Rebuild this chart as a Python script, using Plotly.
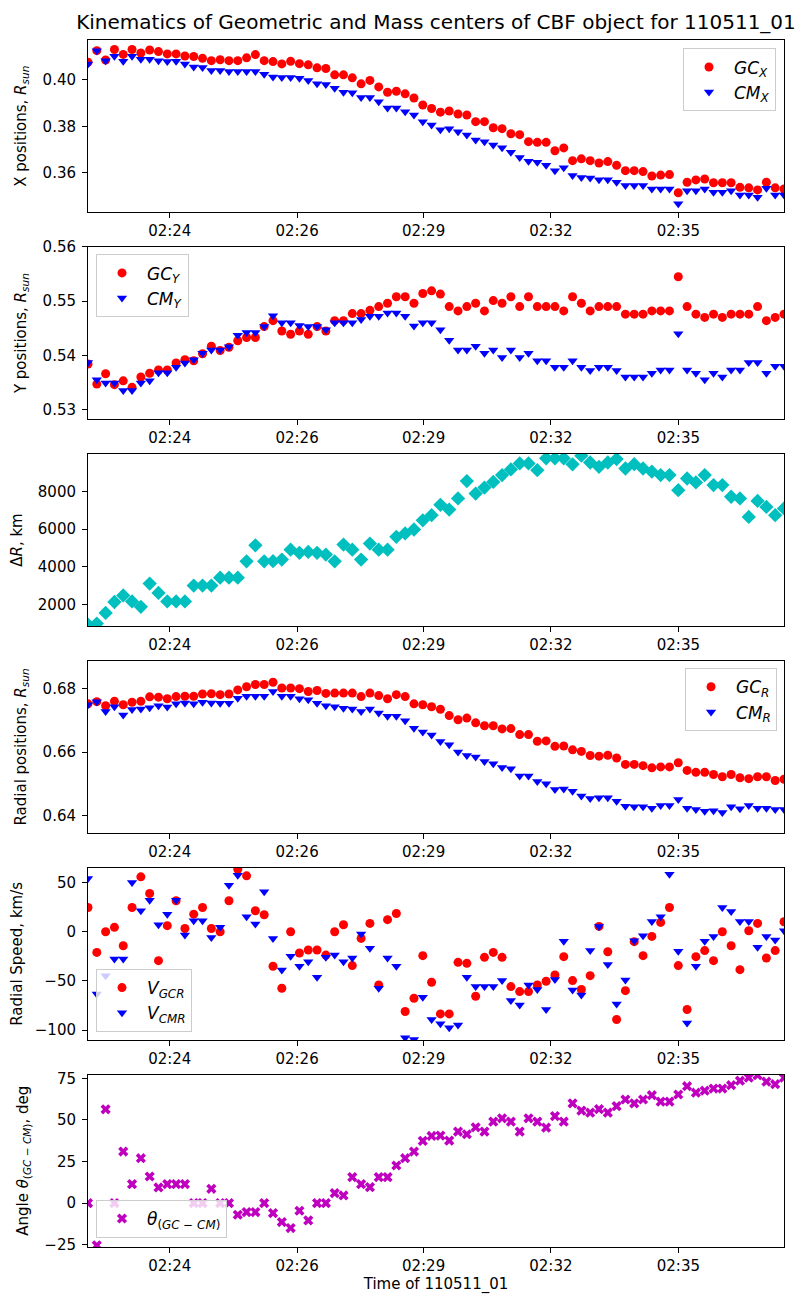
import plotly.graph_objects as go
from plotly.subplots import make_subplots

# frame index of each measurement (12 s cadence)
frames = list(range(80))

time_ticks = [9.28, 23.73, 38.09, 52.54, 67.01]
time_labels = ["02:24", "02:26", "02:29", "02:32", "02:35"]

gc_x = [0.4076, 0.4126, 0.4086, 0.4131, 0.4110, 0.4131, 0.4116, 0.4129, 0.4122, 0.4112,
        0.4112, 0.4103, 0.4101, 0.4093, 0.4083, 0.4087, 0.4083, 0.4083, 0.4095, 0.4109,
        0.4083, 0.4079, 0.4069, 0.4080, 0.4070, 0.4065, 0.4052, 0.4049, 0.4022, 0.4022,
        0.4009, 0.3983, 0.3998, 0.3970, 0.3947, 0.3951, 0.3940, 0.3922, 0.3892, 0.3877,
        0.3861, 0.3866, 0.3853, 0.3849, 0.3820, 0.3820, 0.3794, 0.3790, 0.3768, 0.3764,
        0.3734, 0.3731, 0.3731, 0.3695, 0.3707, 0.3652, 0.3660, 0.3652, 0.3642, 0.3648,
        0.3632, 0.3609, 0.3609, 0.3605, 0.3586, 0.3590, 0.3592, 0.3514, 0.3559, 0.3569,
        0.3573, 0.3557, 0.3557, 0.3557, 0.3537, 0.3535, 0.3526, 0.3559, 0.3535, 0.3530]
cm_x = [0.4069, 0.4126, 0.4083, 0.4102, 0.4080, 0.4102, 0.4089, 0.4089, 0.4083, 0.4079,
        0.4080, 0.4069, 0.4056, 0.4053, 0.4041, 0.4041, 0.4036, 0.4036, 0.4036, 0.4036,
        0.4024, 0.4013, 0.4010, 0.4010, 0.4007, 0.3997, 0.3983, 0.3980, 0.3964, 0.3947,
        0.3945, 0.3924, 0.3924, 0.3906, 0.3879, 0.3879, 0.3863, 0.3849, 0.3820, 0.3806,
        0.3785, 0.3790, 0.3777, 0.3763, 0.3741, 0.3734, 0.3720, 0.3708, 0.3688, 0.3666,
        0.3649, 0.3645, 0.3632, 0.3609, 0.3621, 0.3588, 0.3579, 0.3577, 0.3570, 0.3570,
        0.3559, 0.3545, 0.3545, 0.3545, 0.3530, 0.3530, 0.3530, 0.3466, 0.3522, 0.3522,
        0.3530, 0.3516, 0.3516, 0.3522, 0.3504, 0.3504, 0.3494, 0.3533, 0.3504, 0.3504]

gc_y = [0.5384, 0.5347, 0.5366, 0.5346, 0.5353, 0.5341, 0.5360, 0.5367, 0.5373, 0.5373,
        0.5386, 0.5392, 0.5390, 0.5403, 0.5417, 0.5409, 0.5415, 0.5427, 0.5433, 0.5433,
        0.5453, 0.5464, 0.5445, 0.5439, 0.5445, 0.5439, 0.5453, 0.5445, 0.5464, 0.5464,
        0.5477, 0.5477, 0.5483, 0.5490, 0.5496, 0.5508, 0.5508, 0.5496, 0.5514, 0.5519,
        0.5513, 0.5490, 0.5482, 0.5490, 0.5496, 0.5482, 0.5501, 0.5496, 0.5508, 0.5490,
        0.5508, 0.5490, 0.5490, 0.5490, 0.5482, 0.5508, 0.5496, 0.5482, 0.5490, 0.5490,
        0.5490, 0.5476, 0.5476, 0.5476, 0.5482, 0.5482, 0.5482, 0.5545, 0.5490, 0.5476,
        0.5470, 0.5476, 0.5470, 0.5476, 0.5476, 0.5476, 0.5490, 0.5464, 0.5470, 0.5476]
cm_y = [0.5387, 0.5355, 0.5349, 0.5349, 0.5335, 0.5335, 0.5349, 0.5353, 0.5368, 0.5368,
        0.5378, 0.5386, 0.5392, 0.5404, 0.5410, 0.5410, 0.5416, 0.5437, 0.5442, 0.5442,
        0.5453, 0.5473, 0.5460, 0.5460, 0.5455, 0.5453, 0.5453, 0.5447, 0.5460, 0.5460,
        0.5460, 0.5466, 0.5472, 0.5472, 0.5478, 0.5478, 0.5472, 0.5454, 0.5460, 0.5460,
        0.5447, 0.5428, 0.5410, 0.5410, 0.5417, 0.5404, 0.5410, 0.5396, 0.5410, 0.5396,
        0.5404, 0.5390, 0.5390, 0.5378, 0.5378, 0.5390, 0.5378, 0.5372, 0.5378, 0.5378,
        0.5372, 0.5360, 0.5360, 0.5360, 0.5367, 0.5373, 0.5373, 0.5440, 0.5373, 0.5367,
        0.5355, 0.5367, 0.5360, 0.5373, 0.5373, 0.5387, 0.5387, 0.5367, 0.5380, 0.5380]

delta_r = [925, 980, 1550, 2130, 2480, 2160, 1870, 3110, 2610, 2160,
           2160, 2160, 3000, 3000, 3000, 3420, 3420, 3420, 4290, 5140,
           4290, 4300, 4380, 4910, 4740, 4790, 4740, 4650, 4290, 5180,
           4910, 4380, 5230, 4910, 4910, 5590, 5770, 5980, 6470, 6740,
           7290, 7040, 7630, 8550, 7890, 8210, 8510, 8870, 9170, 9490,
           9490, 9130, 9760, 9760, 9760, 9440, 9900, 9540, 9310, 9540,
           9720, 9220, 9450, 9220, 9050, 8870, 8870, 8070, 8690, 8480,
           8870, 8340, 8340, 7720, 7630, 6650, 7500, 7180, 6740, 7100]

gc_r = [0.6752, 0.6759, 0.6746, 0.6760, 0.6749, 0.6757, 0.6760, 0.6774, 0.6773, 0.6768,
        0.6775, 0.6776, 0.6776, 0.6783, 0.6784, 0.6781, 0.6783, 0.6796, 0.6806, 0.6813,
        0.6813, 0.6820, 0.6802, 0.6802, 0.6800, 0.6791, 0.6794, 0.6785, 0.6786, 0.6786,
        0.6786, 0.6775, 0.6786, 0.6778, 0.6768, 0.6781, 0.6775, 0.6752, 0.6749, 0.6743,
        0.6735, 0.6715, 0.6702, 0.6707, 0.6692, 0.6683, 0.6683, 0.6673, 0.6674, 0.6655,
        0.6655, 0.6634, 0.6635, 0.6618, 0.6619, 0.6607, 0.6602, 0.6589, 0.6587, 0.6590,
        0.6581, 0.6561, 0.6561, 0.6557, 0.6550, 0.6553, 0.6553, 0.6566, 0.6542, 0.6536,
        0.6536, 0.6529, 0.6522, 0.6529, 0.6519, 0.6516, 0.6522, 0.6522, 0.6510, 0.6514]
cm_r = [0.6749, 0.6759, 0.6728, 0.6743, 0.6717, 0.6734, 0.6736, 0.6740, 0.6746, 0.6742,
        0.6752, 0.6755, 0.6752, 0.6757, 0.6755, 0.6754, 0.6754, 0.6770, 0.6776, 0.6776,
        0.6776, 0.6791, 0.6776, 0.6776, 0.6768, 0.6765, 0.6754, 0.6746, 0.6743, 0.6738,
        0.6736, 0.6728, 0.6736, 0.6723, 0.6713, 0.6713, 0.6699, 0.6675, 0.6663, 0.6654,
        0.6633, 0.6623, 0.6600, 0.6589, 0.6584, 0.6570, 0.6563, 0.6551, 0.6547, 0.6524,
        0.6524, 0.6507, 0.6500, 0.6482, 0.6483, 0.6476, 0.6461, 0.6453, 0.6456, 0.6456,
        0.6445, 0.6429, 0.6427, 0.6427, 0.6423, 0.6431, 0.6431, 0.6450, 0.6423, 0.6419,
        0.6413, 0.6415, 0.6409, 0.6427, 0.6421, 0.6431, 0.6423, 0.6423, 0.6419, 0.6419]

v_gcr = [24.6, -21, 0, 4.4, -14.2, 24.6, 55.7, 38.8, -29.4, 6.1,
         31.4, 3.3, 17.8, 24.6, 3.3, 0, 31.4, 63.4, 56.7, 21.3,
         17.2, -35.1, -57.4, 0, -21.6, -18.6, -18.6, -23.7, 0, 7.1,
         -34.4, -6.8, 8.4, -54.1, 12.2, 18.5, -81, -67.5, -24.3, -51.3,
         -83.4, -83.4, -31.1, -32.1, -65.5, -26, -21, -26, -55.7, -60.8,
         -60.8, -54.1, -50.3, -43.9, -25.3, -49.6, -58.7, -44.6, 5.4, -20.3,
         -89.1, -59.8, -10.1, -24.3, -4.8, 9.4, 24.6, -34.4, -79, -25.3,
         -19.2, -29.4, 0, -14.2, -38.5, 1, 8.4, -26.7, -19.2, 10.1]
v_cmr = [54, -63.2, -44.6, -27.7, -27.7, 49.9, 21.3, 32, 7.1, 17.8,
         32, -3.4, 11.1, 11.1, -5.8, 4.4, 47.2, 57.3, 15.2, 7.7,
         40.5, -6.8, -38.9, -25, -35.1, -30.4, -46.3, -26, -23.7, -30.4,
         -26.7, -2.4, -16.9, -57.4, -26.7, -35.1, -107.7, -109.4, -66.5, -89.1,
         -93.5, -97.6, -94.6, -46.3, -55.7, -55.7, -55.7, -49.6, -69.9, -74.3,
         -54.1, -58.7, -79, -48.6, -9.8, -59.1, -64.2, -19.2, 5.4, -33.4,
         -73.3, -49, -9.1, -4.1, 10.4, 15.2, 58.3, -19.9, -92.6, -35.1,
         -9.8, -4.8, 24.6, 20.6, 10.4, 10.4, -15.9, -4.8, -8.5, 1]

theta = [0, -25.4, 56.4, 0, 31, 11.4, 27, 16, 9.4, 11.4,
         11.4, 11.4, 0, 0, 8.6, 0, 0, -7, -5.4, -5.4,
         0, -6, -11.4, -15, -4.6, -10.4, 0, 0, 6, 4.6,
         15.6, 11.4, 9.6, 15.6, 15.6, 22.6, 27, 31, 37.4, 40.4,
         40.6, 37.6, 43, 41.4, 45.6, 43, 49, 51, 49, 43,
         51, 49, 45.4, 52.3, 49, 60, 55.6, 54.4, 56.5, 54.4,
         58.3, 62.3, 60, 62.3, 64.9, 61, 61, 65.3, 70.3, 66.4,
         67.6, 68.9, 68.9, 70.9, 73.6, 75.4, 76.9, 73, 71.5, 75.4]

FONT = "DejaVu Sans"
RED = "#ff0000"
BLUE = "#0000ff"

fig = make_subplots(rows=6, cols=1, vertical_spacing=1 / 35)


def dots(y, name, color, symbol, row, legend, size=9, show=True):
    fig.add_trace(go.Scatter(x=frames, y=y, mode="markers", name=name,
                             legendgroup=name,
                             marker=dict(color=color, symbol=symbol, size=size,
                                         line=dict(width=0)),
                             showlegend=show, legend=legend), row=row, col=1)


dots(gc_x, "<i>GC</i><sub><i>X</i></sub>", RED, "circle", 1, "legend")
dots(cm_x, "<i>CM</i><sub><i>X</i></sub>", BLUE, "triangle-down", 1, "legend")
dots(gc_y, "<i>GC</i><sub><i>Y</i></sub>", RED, "circle", 2, "legend2")
dots(cm_y, "<i>CM</i><sub><i>Y</i></sub>", BLUE, "triangle-down", 2, "legend2")
dots(delta_r, "dR", "#00bfbf", "diamond", 3, "legend", size=11, show=False)
dots(gc_r, "<i>GC</i><sub><i>R</i></sub>", RED, "circle", 4, "legend3")
dots(cm_r, "<i>CM</i><sub><i>R</i></sub>", BLUE, "triangle-down", 4, "legend3")
dots(v_gcr, "<i>V</i><sub><i>GCR</i></sub>", RED, "circle", 5, "legend4")
dots(v_cmr, "<i>V</i><sub><i>CMR</i></sub>", BLUE, "triangle-down", 5, "legend4")
dots(theta, "<i>θ</i><sub>(<i>GC</i> − <i>CM</i>)</sub>", "#bf00bf", "x", 6, "legend5")

axis_style = dict(showline=True, mirror=True, linecolor="black", linewidth=1,
                  ticks="outside", ticklen=5, tickwidth=1, tickcolor="black",
                  showgrid=False, zeroline=False, automargin=False,
                  tickfont=dict(family=FONT, size=15, color="black"))

for r in range(1, 7):
    fig.update_xaxes(range=[0, 79], tickmode="array", tickvals=time_ticks,
                     ticktext=time_labels, row=r, col=1, **axis_style)

fig.update_xaxes(title=dict(text="Time of 110511_01", standoff=2,
                            font=dict(family=FONT, size=15, color="black")),
                 row=6, col=1)

ylabels = ["X positions, <i>R</i><sub><i>sun</i></sub>",
           "Y positions, <i>R</i><sub><i>sun</i></sub>",
           "Δ<i>R</i>, km",
           "Radial positions, <i>R</i><sub><i>sun</i></sub>",
           "Radial Speed, km/s",
           "Angle <i>θ</i><sub>(<i>GC</i> − <i>CM</i>)</sub>, deg"]
yranges = [[0.3429, 0.4172], [0.5282, 0.5600], [840, 10000],
           [0.6344, 0.6888], [-110, 65], [-26.4, 77.3]]
yticks = [[0.36, 0.38, 0.40], [0.53, 0.54, 0.55, 0.56], [2000, 4000, 6000, 8000],
          [0.64, 0.66, 0.68], [-100, -50, 0, 50], [-25, 0, 25, 50, 75]]
yformats = [".2f", ".2f", "d", ".2f", "d", "d"]

for r in range(6):
    fig.update_yaxes(range=yranges[r], tickmode="array", tickvals=yticks[r],
                     tickformat=yformats[r], ticklabelstandoff=3,
                     title=dict(text=ylabels[r], standoff=12,
                                font=dict(family=FONT, size=15, color="black")),
                     row=r + 1, col=1, **axis_style)

leg = dict(bgcolor="rgba(255,255,255,0.8)", bordercolor="#cccccc", borderwidth=1,
           font=dict(family=FONT, size=17, color="black"), traceorder="normal",
           tracegroupgap=4, itemwidth=40)
fig.update_layout(
    legend=dict(x=0.9885, y=0.993, xanchor="right", yanchor="top", **leg),
    legend2=dict(x=0.0115, y=0.8224, xanchor="left", yanchor="top", **leg),
    legend3=dict(x=0.99, y=0.4795, xanchor="right", yanchor="top", **leg),
    legend4=dict(x=0.0115, y=0.1781, xanchor="left", yanchor="bottom", **leg),
    legend5=dict(x=0.0115, y=0.0075, xanchor="left", yanchor="bottom", **leg),
)

# the page adds an 8 px body margin, so the figure is laid out 8 px up and left
fig.update_layout(
    width=809, height=1304,
    margin=dict(l=80, r=33, t=32, b=65, autoexpand=False),
    paper_bgcolor="white", plot_bgcolor="white",
    font=dict(family=FONT, size=15, color="black"),
    title=dict(text="Kinematics of Geometric and Mass centers of CBF object for 110511_01",
               x=0.5, xref="paper", xanchor="center", y=1 - 14 / 1304, yanchor="middle",
               font=dict(family=FONT, size=20, color="black")),
)

fig.write_html("out.html")
